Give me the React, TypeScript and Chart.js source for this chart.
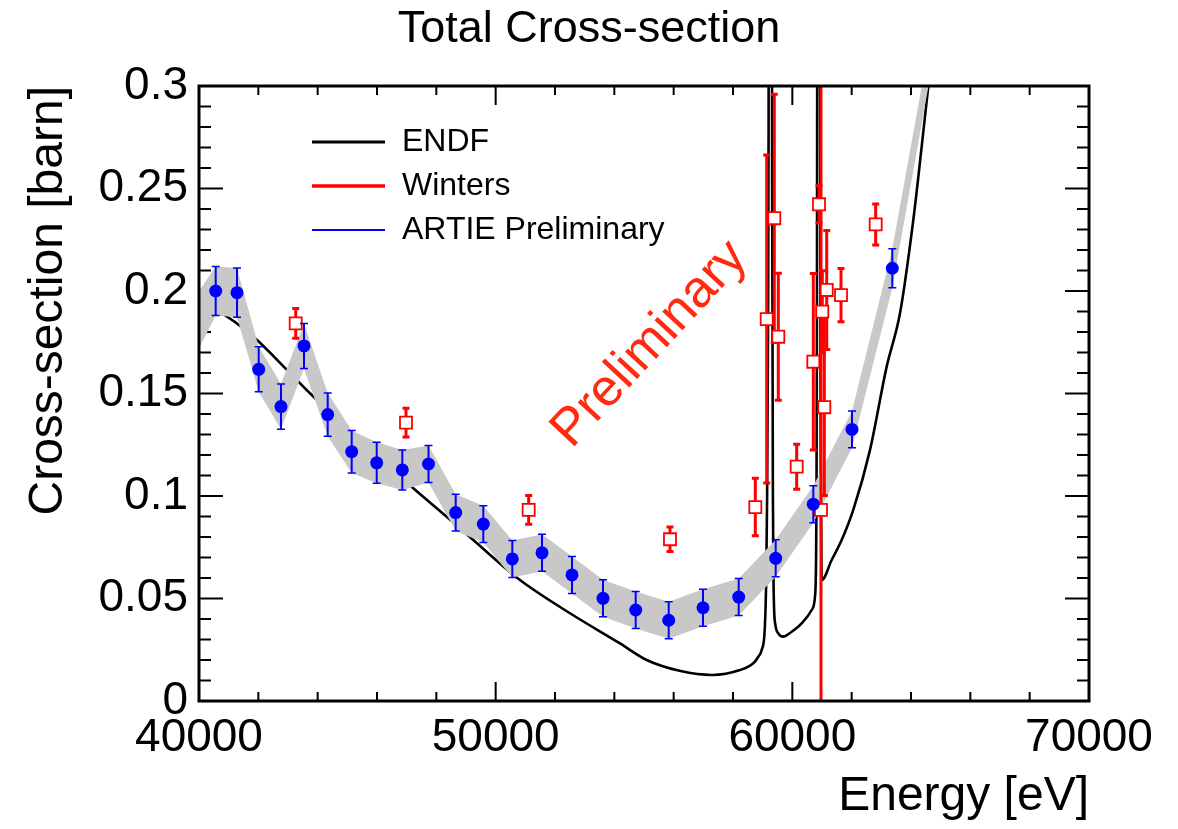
import React, { useEffect, useRef } from "react";
import { Chart, registerables } from "chart.js";

Chart.register(...registerables);

const FONT = '"Liberation Sans", Arial, Helvetica, sans-serif';

// Axis tick labels
const xTickValues = [40000, 50000, 60000, 70000];
const yTickValues = [0, 0.05, 0.1, 0.15, 0.2, 0.25, 0.3];
const xMinorStep = 2000;
const yMinorStep = 0.01;

// ENDF evaluated cross-section (eV, barn)
const endfE = [
  40000, 41213, 41955, 42966, 43742, 45500, 47223, 48349, 49246, 50820,
  52505, 54191, 55091, 56234, 57292, 58235, 58684, 58853, 58967, 59070,
  59120, 59150, 59180, 59200, 59220, 59250, 59290, 59320, 59345, 59365,
  59385, 59430, 59527, 59696, 59977, 60315, 60652, 60763, 60797, 60815,
  60830, 60850, 60880, 60920, 60950, 60975, 60990, 61326, 61663, 62054,
  62617, 63180, 63629, 64077, 64360, 64582, 64800,
];
const endfXS = [
  0.196, 0.1849, 0.1761, 0.1615, 0.1501, 0.126, 0.1038, 0.0899, 0.0785, 0.059,
  0.0428, 0.0281, 0.02, 0.0146, 0.0127, 0.0151, 0.0184, 0.0216, 0.0249, 0.035,
  0.06, 0.1, 0.18, 0.28, 0.6, 1.2, 0.6, 0.25, 0.1, 0.06,
  0.045, 0.037, 0.033, 0.0314, 0.0338, 0.0379, 0.0444, 0.0509, 0.0655, 0.1,
  0.2, 0.5, 1.0, 0.5, 0.15, 0.08, 0.059, 0.0688, 0.0785, 0.0932,
  0.1224, 0.1631, 0.1891, 0.2346, 0.2704, 0.2997, 0.33,
];

// Winters measurement
const wintersE = [43260, 46978, 51113, 55876, 58752, 59136, 59392, 59527, 60147, 60707, 60899, 60966, 61010, 61078, 61159, 61641, 62810];
const wintersXS = [0.1842, 0.1358, 0.0932, 0.0789, 0.0946, 0.1863, 0.2355, 0.1777, 0.1143, 0.1655, 0.2423, 0.0932, 0.1899, 0.1433, 0.2005, 0.198, 0.2325];
const wintersErr = [0.0073, 0.007, 0.007, 0.006, 0.014, 0.08, 0.0605, 0.031, 0.011, 0.043, 0.009, 0.5, 0.02, 0.043, 0.029, 0.013, 0.01];

// ARTIE preliminary measurement
const artieE = [40563, 41281, 42012, 42764, 43539, 44338, 45147, 45990, 46853, 47736, 48653, 49583, 50561, 51562, 52573, 53618, 54720, 55833, 56989, 58192, 59439, 60707, 62011, 63370];
const artieXS = [0.2, 0.1992, 0.1618, 0.1436, 0.1732, 0.1397, 0.1216, 0.1162, 0.1127, 0.1156, 0.0919, 0.0863, 0.0693, 0.0723, 0.0615, 0.0501, 0.0444, 0.0394, 0.0455, 0.0507, 0.0696, 0.096, 0.1325, 0.2111];
const artieErr = [0.012, 0.012, 0.011, 0.011, 0.011, 0.0106, 0.0104, 0.01, 0.0098, 0.009, 0.009, 0.009, 0.009, 0.009, 0.009, 0.009, 0.009, 0.009, 0.009, 0.009, 0.009, 0.009, 0.009, 0.0095];

// Band end points beyond the measured range
const bandExtraE = [40000, 64700];
const bandExtraXS = [0.186, 0.318];
const bandExtraErr = [0.014, 0.009];

const RED = "#ff0000";
const BLUE = "#0000ff";
const GRAY = "#c8c8c8";

const errorBarPlugin = {
  id: "errorBars",
  beforeDatasetDraw(chart: any, args: any) {
    const ds = chart.data.datasets[args.index];
    const errs: number[] | undefined = ds.errors;
    if (!errs) return;
    const { ctx, chartArea: a } = chart;
    const xs = chart.scales.x;
    const ys = chart.scales.y;
    ctx.save();
    ctx.beginPath();
    ctx.rect(a.left, a.top, a.right - a.left, a.bottom - a.top);
    ctx.clip();
    ctx.strokeStyle = ds.errColor;
    ds.data.forEach((p: any, i: number) => {
      const px = xs.getPixelForValue(p.x);
      const yt = ys.getPixelForValue(p.y + errs[i]);
      const yb = ys.getPixelForValue(p.y - errs[i]);
      ctx.lineWidth = ds.errWidth;
      ctx.beginPath();
      ctx.moveTo(px, yt);
      ctx.lineTo(px, yb);
      ctx.stroke();
      ctx.lineWidth = ds.capWidth;
      ctx.beginPath();
      ctx.moveTo(px - ds.capHalf, yt);
      ctx.lineTo(px + ds.capHalf, yt);
      ctx.moveTo(px - ds.capHalf, yb);
      ctx.lineTo(px + ds.capHalf, yb);
      ctx.stroke();
    });
    ctx.restore();
  },
};

const framePlugin = {
  id: "frameTicks",
  beforeDatasetsDraw(chart: any) {
    const { ctx, chartArea: a } = chart;
    const xs = chart.scales.x;
    const ys = chart.scales.y;
    ctx.save();
    ctx.strokeStyle = "#000";
    ctx.lineWidth = 2;
    ctx.beginPath();
    for (let v = xs.min; v <= xs.max + 1e-6; v += xMinorStep) {
      const px = xs.getPixelForValue(v);
      const major = xTickValues.some((t) => Math.abs(t - v) < 1e-6);
      const len = major ? 19 : 9;
      ctx.moveTo(px, a.bottom);
      ctx.lineTo(px, a.bottom - len);
      ctx.moveTo(px, a.top);
      ctx.lineTo(px, a.top + len);
    }
    for (let k = 0; ys.min + k * yMinorStep <= ys.max + 1e-9; k++) {
      const v = ys.min + k * yMinorStep;
      const py = ys.getPixelForValue(v);
      const major = yTickValues.some((t) => Math.abs(t - v) < 1e-9);
      const len = major ? 24 : 12;
      ctx.moveTo(a.left, py);
      ctx.lineTo(a.left + len, py);
      ctx.moveTo(a.right, py);
      ctx.lineTo(a.right - len, py);
    }
    ctx.stroke();
    ctx.restore();
  },
  afterDatasetsDraw(chart: any) {
    const { ctx, chartArea: a } = chart;
    ctx.save();
    ctx.strokeStyle = "#000";
    ctx.lineWidth = 3;
    ctx.strokeRect(a.left, a.top, a.right - a.left, a.bottom - a.top);
    ctx.restore();
  },
  afterDraw(chart: any) {
    const { ctx } = chart;
    const xs = chart.scales.x;
    const ys = chart.scales.y;
    // legend inside plot
    const items = chart.data.datasets.filter((d: any) => d.legendColor);
    ctx.save();
    ctx.font = `32px ${FONT}`;
    ctx.textBaseline = "middle";
    ctx.textAlign = "left";
    items.forEach((d: any, i: number) => {
      const yy = 142 + i * 44;
      ctx.strokeStyle = d.legendColor;
      ctx.lineWidth = d.legendWidth;
      ctx.beginPath();
      ctx.moveTo(312, yy);
      ctx.lineTo(385, yy);
      ctx.stroke();
      ctx.fillStyle = "#000";
      ctx.fillText(d.label, 402, yy);
    });
    // Preliminary watermark
    const cx = xs.getPixelForValue(55200);
    const cy = ys.getPixelForValue(0.174);
    ctx.translate(cx, cy);
    ctx.rotate((-47 * Math.PI) / 180);
    ctx.font = `52px ${FONT}`;
    ctx.fillStyle = "#ff2a10";
    ctx.textAlign = "center";
    ctx.fillText("Preliminary", 0, 0);
    ctx.restore();
  },
};

export default function App() {
  const ref = useRef<HTMLCanvasElement>(null);
  useEffect(() => {
    const canvas = ref.current;
    if (!canvas) return;

    const bandE: number[] = [];
    const bandXS: number[] = [];
    const bandErr: number[] = [];
    const allE = [...bandExtraE, ...artieE];
    const allXS = [...bandExtraXS, ...artieXS];
    const allErr = [...bandExtraErr, ...artieErr];
    const idx = allE.map((_, i) => i).sort((p, q) => allE[p] - allE[q]);
    idx.forEach((i) => {
      bandE.push(allE[i]);
      bandXS.push(allXS[i]);
      bandErr.push(allErr[i]);
    });

    const chart = new Chart(canvas, {
      type: "line",
      data: {
        datasets: [
          {
            label: "ENDF",
            data: endfE.map((e, i) => ({ x: e, y: endfXS[i] })),
            borderColor: "#000",
            borderWidth: 2.6,
            pointRadius: 0,
            cubicInterpolationMode: "monotone",
            fill: false,
            order: 5,
            legendColor: "#000",
            legendWidth: 3,
          } as any,
          {
            label: "bandUpper",
            data: bandE.map((e, i) => ({ x: e, y: bandXS[i] + bandErr[i] })),
            borderWidth: 0,
            borderColor: "rgba(0,0,0,0)",
            pointRadius: 0,
            tension: 0,
            fill: false,
            order: 4,
          },
          {
            label: "bandLower",
            data: bandE.map((e, i) => ({ x: e, y: bandXS[i] - bandErr[i] })),
            borderWidth: 0,
            borderColor: "rgba(0,0,0,0)",
            backgroundColor: GRAY,
            pointRadius: 0,
            tension: 0,
            fill: "-1",
            order: 3,
          },
          {
            label: "Winters",
            data: wintersE.map((e, i) => ({ x: e, y: wintersXS[i] })),
            showLine: false,
            pointStyle: "rect",
            pointRadius: 8.5,
            pointBorderWidth: 1.8,
            pointBorderColor: RED,
            pointBackgroundColor: "#fff",
            borderColor: RED,
            order: 1,
            errors: wintersErr,
            errColor: RED,
            errWidth: 3,
            capWidth: 3,
            capHalf: 3.5,
            legendColor: RED,
            legendWidth: 3.5,
          } as any,
          {
            label: "ARTIE Preliminary",
            data: artieE.map((e, i) => ({ x: e, y: artieXS[i] })),
            showLine: false,
            pointStyle: "circle",
            pointRadius: 6.5,
            pointBorderWidth: 0,
            pointBackgroundColor: BLUE,
            borderColor: BLUE,
            order: 0,
            errors: artieErr,
            errColor: BLUE,
            errWidth: 2,
            capWidth: 1.5,
            capHalf: 4,
            legendColor: BLUE,
            legendWidth: 2,
          } as any,
        ],
      },
      options: {
        responsive: false,
        animation: false,
        devicePixelRatio: 1,
        layout: { padding: 0 },
        plugins: {
          legend: { display: false },
          tooltip: { enabled: false },
          title: {
            display: true,
            text: "Total Cross-section",
            color: "#000",
            font: { family: FONT, size: 45, weight: "normal" },
            padding: { top: 3, bottom: 29 },
          },
        },
        scales: {
          x: {
            type: "linear",
            min: 40000,
            max: 70000,
            grid: { display: false, drawTicks: false },
            border: { display: false },
            afterBuildTicks: (s: any) => {
              s.ticks = xTickValues.map((v) => ({ value: v }));
            },
            afterFit: (s: any) => {
              s.height = 128;
            },
            ticks: {
              color: "#000",
              font: { family: FONT, size: 46 },
              padding: 10,
              maxRotation: 0,
              callback: (v: any) => String(v),
            },
            title: {
              display: true,
              text: "Energy [eV]",
              align: "end",
              color: "#000",
              font: { family: FONT, size: 48 },
              padding: { top: 0, bottom: 3 },
            },
          },
          y: {
            type: "linear",
            position: "left",
            min: 0,
            max: 0.3,
            grid: { display: false, drawTicks: false },
            border: { display: false },
            afterBuildTicks: (s: any) => {
              s.ticks = yTickValues.map((v) => ({ value: v }));
            },
            afterFit: (s: any) => {
              s.width = 199;
            },
            ticks: {
              color: "#000",
              font: { family: FONT, size: 46 },
              padding: 11,
              callback: (v: any) => String(Number(Number(v).toFixed(2))),
            },
            title: {
              display: true,
              text: "Cross-section [barn]",
              align: "end",
              color: "#000",
              font: { family: FONT, size: 48 },
              padding: { top: 20, bottom: 0 },
            },
          },
          yRight: {
            type: "linear",
            position: "right",
            display: true,
            grid: { display: false, drawTicks: false },
            border: { display: false },
            ticks: { display: false },
            afterFit: (s: any) => {
              s.width = 89;
            },
          },
        },
      },
      plugins: [errorBarPlugin, framePlugin],
    } as any);
    return () => chart.destroy();
  }, []);
  return (
    <div style={{ position: "absolute", left: 0, top: 0, width: 1178, height: 829, background: "#fff" }}>
      <canvas ref={ref} width={1178} height={829} style={{ display: "block" }} />
    </div>
  );
}
